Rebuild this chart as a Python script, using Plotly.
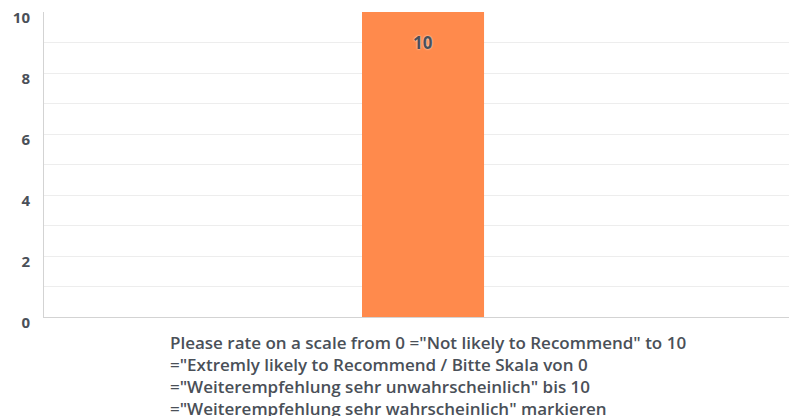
import plotly.graph_objects as go

categories = ["nps"]
values = [10]
bar_labels = ["10"]
question = (
    'Please rate on a scale from 0 ="Not likely to Recommend" to 10<br>'
    '="Extremly likely to Recommend / Bitte Skala von 0<br>'
    '="Weiterempfehlung sehr unwahrscheinlich" bis 10<br>'
    '="Weiterempfehlung sehr wahrscheinlich" markieren'
)

TEXT = "#4a5058"
GRID = "#ededed"
AXIS = "#d3d3d3"
FONT = "Open Sans"

fig = go.Figure(
    go.Bar(
        x=categories,
        y=values,
        width=0.161,
        marker=dict(color="#ff8a4c", line=dict(width=0)),
        hoverinfo="skip",
    )
)

# value label sits ~30px below the bar top
for cat, val, lab in zip(categories, values, bar_labels):
    fig.add_annotation(
        x=cat, y=val, text=lab, showarrow=False, yshift=-30,
        font=dict(family=FONT, size=17, color=TEXT, weight="bold",
                  shadow="0px 0px 2px white"),
    )

fig.add_annotation(
    text=question,
    xref="paper",
    yref="paper",
    x=0.1664,
    y=-0.04,
    xanchor="left",
    yanchor="top",
    align="left",
    showarrow=False,
    font=dict(family=FONT, size=17, color=TEXT, weight=600),
)

fig.update_layout(
    width=789,
    height=416,
    margin=dict(l=44, r=0, t=12, b=99, autoexpand=False),
    paper_bgcolor="white",
    plot_bgcolor="white",
    showlegend=False,
    font=dict(family=FONT, color=TEXT),
    xaxis=dict(
        range=[-0.5, 0.4828],
        showticklabels=False,
        showgrid=False,
        showline=True,
        linecolor=AXIS,
        linewidth=1,
        ticks="",
        automargin=False,
        fixedrange=True,
    ),
    yaxis=dict(
        range=[0, 10],
        dtick=2,
        showgrid=True,
        gridcolor=GRID,
        gridwidth=1,
        minor=dict(dtick=1, showgrid=True, gridcolor=GRID, gridwidth=1),
        showline=True,
        linecolor=AXIS,
        linewidth=1,
        zeroline=False,
        ticks="",
        tickfont=dict(family=FONT, size=15, color=TEXT, weight="bold"),
        ticklabelstandoff=10,
        ticklabelshift=6,
        ticklabeloverflow="allow",
        automargin=False,
        fixedrange=True,
    ),
)

fig.write_html(
    "out.html",
    config={"displayModeBar": False},
    post_script="document.body.style.margin='0';document.body.style.overflow='hidden';",
)
